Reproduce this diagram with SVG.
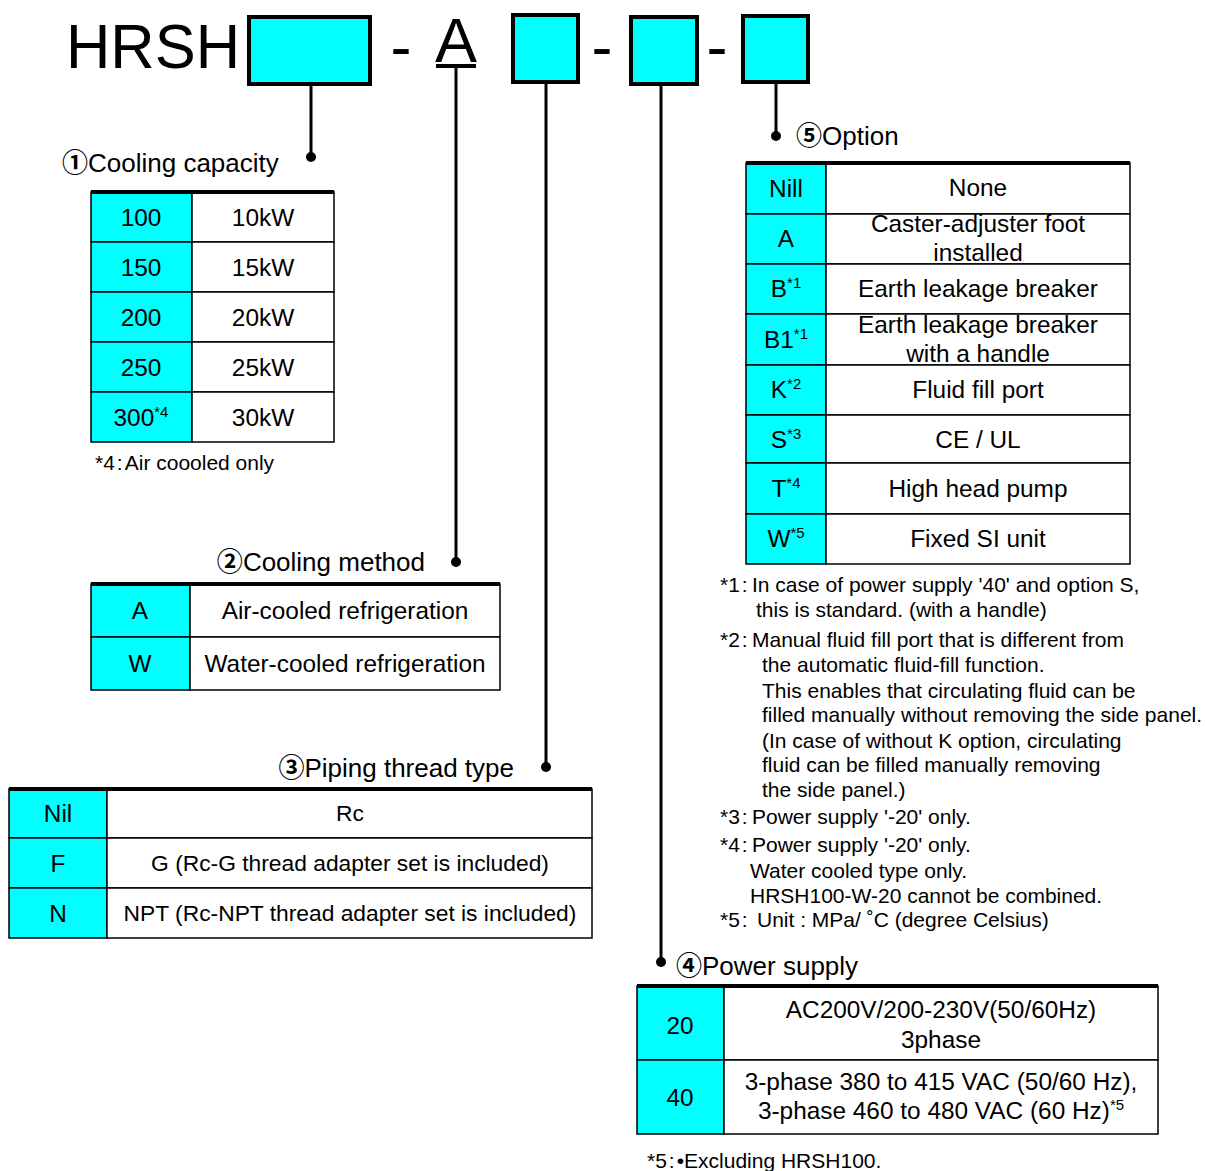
<svg xmlns="http://www.w3.org/2000/svg" width="1205" height="1171" viewBox="0 0 1205 1171">
<style>
.t{font-family:"Liberation Sans",Arial,"Noto Sans CJK JP",sans-serif;fill:#000}
.cj{font-family:"Noto Sans CJK JP","Liberation Sans",sans-serif;font-weight:bold}
.big{font-size:63px}
.lbl{font-size:26px}
.c{font-size:24.4px;text-anchor:middle}
.c23{font-size:22.8px;text-anchor:middle}
.n{font-size:21px}
.sup{font-size:15px}
.key{fill:#00FFFF;stroke:#000;stroke-width:1.5}
.val{fill:#fff;stroke:#000;stroke-width:1.5}
.top{stroke:#000;stroke-width:4}
.box{fill:#00FFFF;stroke:#000;stroke-width:4}
.ln{stroke:#000;stroke-width:3;fill:none}
.dot{fill:#000}
</style>
<rect width="1205" height="1171" fill="#fff"/>

<g id="header">
  <text class="t big" x="66" y="68" textLength="174" lengthAdjust="spacingAndGlyphs">HRSH</text>
  <rect class="box" x="249" y="17" width="121" height="67"/>
  <text class="t big" x="401" y="68" text-anchor="middle">-</text>
  <text class="t big" x="456" y="62" text-anchor="middle">A</text>
  <rect x="436" y="64" width="40" height="4" fill="#000"/>
  <rect class="box" x="513" y="15" width="65" height="67"/>
  <text class="t big" x="602" y="68" text-anchor="middle">-</text>
  <rect class="box" x="631" y="17" width="66" height="67"/>
  <text class="t big" x="717" y="68" text-anchor="middle">-</text>
  <rect class="box" x="743" y="16" width="65" height="66"/>
</g>

<g id="connectors">
  <line class="ln" x1="311" y1="86" x2="311" y2="157"/>
  <circle class="dot" cx="311" cy="157" r="5"/>
  <line class="ln" x1="456" y1="68" x2="456" y2="562"/>
  <circle class="dot" cx="456" cy="562" r="5"/>
  <line class="ln" x1="546" y1="84" x2="546" y2="767"/>
  <circle class="dot" cx="546" cy="767" r="5"/>
  <line class="ln" x1="661" y1="86" x2="661" y2="962"/>
  <circle class="dot" cx="661" cy="962" r="5"/>
  <line class="ln" x1="776" y1="84" x2="776" y2="136"/>
  <circle class="dot" cx="776" cy="136" r="5"/>
</g>

<g id="cooling-capacity">
  <text class="t lbl" x="62" y="172"><tspan class="cj">①</tspan>Cooling capacity</text>
  <rect class="key" x="91" y="192" width="101" height="50"/><rect class="val" x="192" y="192" width="142" height="50"/>
  <rect class="key" x="91" y="242" width="101" height="50"/><rect class="val" x="192" y="242" width="142" height="50"/>
  <rect class="key" x="91" y="292" width="101" height="50"/><rect class="val" x="192" y="292" width="142" height="50"/>
  <rect class="key" x="91" y="342" width="101" height="50"/><rect class="val" x="192" y="342" width="142" height="50"/>
  <rect class="key" x="91" y="392" width="101" height="50"/><rect class="val" x="192" y="392" width="142" height="50"/>
  <line class="top" x1="91" y1="192" x2="334" y2="192"/>
  <text class="t c" x="141" y="225.5">100</text><text class="t c" x="263" y="225.5">10kW</text>
  <text class="t c" x="141" y="275.5">150</text><text class="t c" x="263" y="275.5">15kW</text>
  <text class="t c" x="141" y="325.5">200</text><text class="t c" x="263" y="325.5">20kW</text>
  <text class="t c" x="141" y="375.5">250</text><text class="t c" x="263" y="375.5">25kW</text>
  <text class="t c" x="141" y="425.5">300<tspan class="sup" dy="-9">*4</tspan></text><text class="t c" x="263" y="425.5">30kW</text>
  <text class="t n" x="95" y="470">*4<tspan dx="2">:</tspan><tspan dx="2">Air coooled only</tspan></text>
</g>

<g id="cooling-method">
  <text class="t lbl" x="425" y="571" text-anchor="end"><tspan class="cj">②</tspan>Cooling method</text>
  <rect class="key" x="91" y="584" width="99" height="53"/><rect class="val" x="190" y="584" width="310" height="53"/>
  <rect class="key" x="91" y="637" width="99" height="53"/><rect class="val" x="190" y="637" width="310" height="53"/>
  <line class="top" x1="91" y1="584" x2="500" y2="584"/>
  <text class="t c" x="140" y="619">A</text><text class="t c" x="345" y="619">Air-cooled refrigeration</text>
  <text class="t c" x="140" y="672">W</text><text class="t c" x="345" y="672">Water-cooled refrigeration</text>
</g>

<g id="piping-thread">
  <text class="t lbl" x="514" y="777" text-anchor="end"><tspan class="cj">③</tspan>Piping thread type</text>
  <rect class="key" x="9" y="789" width="98" height="49"/><rect class="val" x="107" y="789" width="485" height="49"/>
  <rect class="key" x="9" y="838" width="98" height="50"/><rect class="val" x="107" y="838" width="485" height="50"/>
  <rect class="key" x="9" y="888" width="98" height="50"/><rect class="val" x="107" y="888" width="485" height="50"/>
  <line class="top" x1="9" y1="789" x2="592" y2="789"/>
  <text class="t c" x="58" y="822">Nil</text><text class="t c23" x="350" y="821">Rc</text>
  <text class="t c" x="58" y="871.5">F</text><text class="t c23" x="350" y="871">G (Rc-G thread adapter set is included)</text>
  <text class="t c" x="58" y="921.5">N</text><text class="t c23" x="350" y="921">NPT (Rc-NPT thread adapter set is included)</text>
</g>

<g id="power-supply">
  <text class="t lbl" x="676" y="975"><tspan class="cj">④</tspan>Power supply</text>
  <rect class="key" x="637" y="986" width="87" height="74"/><rect class="val" x="724" y="986" width="434" height="74"/>
  <rect class="key" x="637" y="1060" width="87" height="74"/><rect class="val" x="724" y="1060" width="434" height="74"/>
  <line class="top" x1="637" y1="986" x2="1158" y2="986"/>
  <text class="t c" x="680" y="1033.5">20</text>
  <text class="t c" x="941" y="1018">AC200V/200-230V(50/60Hz)</text>
  <text class="t c" x="941" y="1048">3phase</text>
  <text class="t c" x="680" y="1105.5">40</text>
  <text class="t c" x="941" y="1090">3-phase 380 to 415 VAC (50/60 Hz),</text>
  <text class="t c" x="941" y="1119">3-phase 460 to 480 VAC (60 Hz)<tspan class="sup" dy="-9">*5</tspan></text>
  <text class="t n" x="647" y="1168">*5<tspan dx="2">:</tspan><tspan dx="2">•Excluding HRSH100.</tspan></text>
</g>

<g id="option">
  <text class="t lbl" x="796" y="145"><tspan class="cj">⑤</tspan>Option</text>
  <rect class="key" x="746" y="163" width="80" height="51"/><rect class="val" x="826" y="163" width="304" height="51"/>
  <rect class="key" x="746" y="214" width="80" height="50"/><rect class="val" x="826" y="214" width="304" height="50"/>
  <rect class="key" x="746" y="264" width="80" height="50"/><rect class="val" x="826" y="264" width="304" height="50"/>
  <rect class="key" x="746" y="314" width="80" height="51"/><rect class="val" x="826" y="314" width="304" height="51"/>
  <rect class="key" x="746" y="365" width="80" height="50"/><rect class="val" x="826" y="365" width="304" height="50"/>
  <rect class="key" x="746" y="415" width="80" height="48"/><rect class="val" x="826" y="415" width="304" height="48"/>
  <rect class="key" x="746" y="463" width="80" height="51"/><rect class="val" x="826" y="463" width="304" height="51"/>
  <rect class="key" x="746" y="514" width="80" height="50"/><rect class="val" x="826" y="514" width="304" height="50"/>
  <line class="top" x1="746" y1="163" x2="1130" y2="163"/>
  <text class="t c" x="786" y="197">Nill</text><text class="t c" x="978" y="196">None</text>
  <text class="t c" x="786" y="247">A</text>
  <text class="t c" x="978" y="232">Caster-adjuster foot</text><text class="t c" x="978" y="261">installed</text>
  <text class="t c" x="786" y="297">B<tspan class="sup" dy="-9">*1</tspan></text><text class="t c" x="978" y="297">Earth leakage breaker</text>
  <text class="t c" x="786" y="347.5">B1<tspan class="sup" dy="-9">*1</tspan></text>
  <text class="t c" x="978" y="333">Earth leakage breaker</text><text class="t c" x="978" y="362">with a handle</text>
  <text class="t c" x="786" y="398">K<tspan class="sup" dy="-9">*2</tspan></text><text class="t c" x="978" y="398">Fluid fill port</text>
  <text class="t c" x="786" y="447.5">S<tspan class="sup" dy="-9">*3</tspan></text><text class="t c" x="978" y="447.5">CE / UL</text>
  <text class="t c" x="786" y="496.5">T<tspan class="sup" dy="-9">*4</tspan></text><text class="t c" x="978" y="496.5">High head pump</text>
  <text class="t c" x="786" y="547">W<tspan class="sup" dy="-9">*5</tspan></text><text class="t c" x="978" y="547">Fixed SI unit</text>
</g>

<g id="notes">
  <text class="t n" x="720" y="592">*1<tspan dx="2">:</tspan><tspan x="752">In case of power supply '40' and option S,</tspan></text>
  <text class="t n" x="756" y="617">this is standard. (with a handle)</text>
  <text class="t n" x="720" y="647">*2<tspan dx="2">:</tspan><tspan x="752">Manual fluid fill port that is different from</tspan></text>
  <text class="t n" x="762" y="672">the automatic fluid-fill function.</text>
  <text class="t n" x="762" y="698">This enables that circulating fluid can be</text>
  <text class="t n" x="762" y="722">filled manually without removing the side panel.</text>
  <text class="t n" x="762" y="748">(In case of without K option, circulating</text>
  <text class="t n" x="762" y="772">fluid can be filled manually removing</text>
  <text class="t n" x="762" y="797">the side panel.)</text>
  <text class="t n" x="720" y="824">*3<tspan dx="2">:</tspan><tspan x="752">Power supply '-20' only.</tspan></text>
  <text class="t n" x="720" y="852">*4<tspan dx="2">:</tspan><tspan x="752">Power supply '-20' only.</tspan></text>
  <text class="t n" x="750" y="878">Water cooled type only.</text>
  <text class="t n" x="750" y="903">HRSH100-W-20 cannot be combined.</text>
  <text class="t n" x="720" y="927">*5<tspan dx="2">:</tspan><tspan x="757">Unit  : MPa/ ˚C (degree Celsius)</tspan></text>
</g>
</svg>
